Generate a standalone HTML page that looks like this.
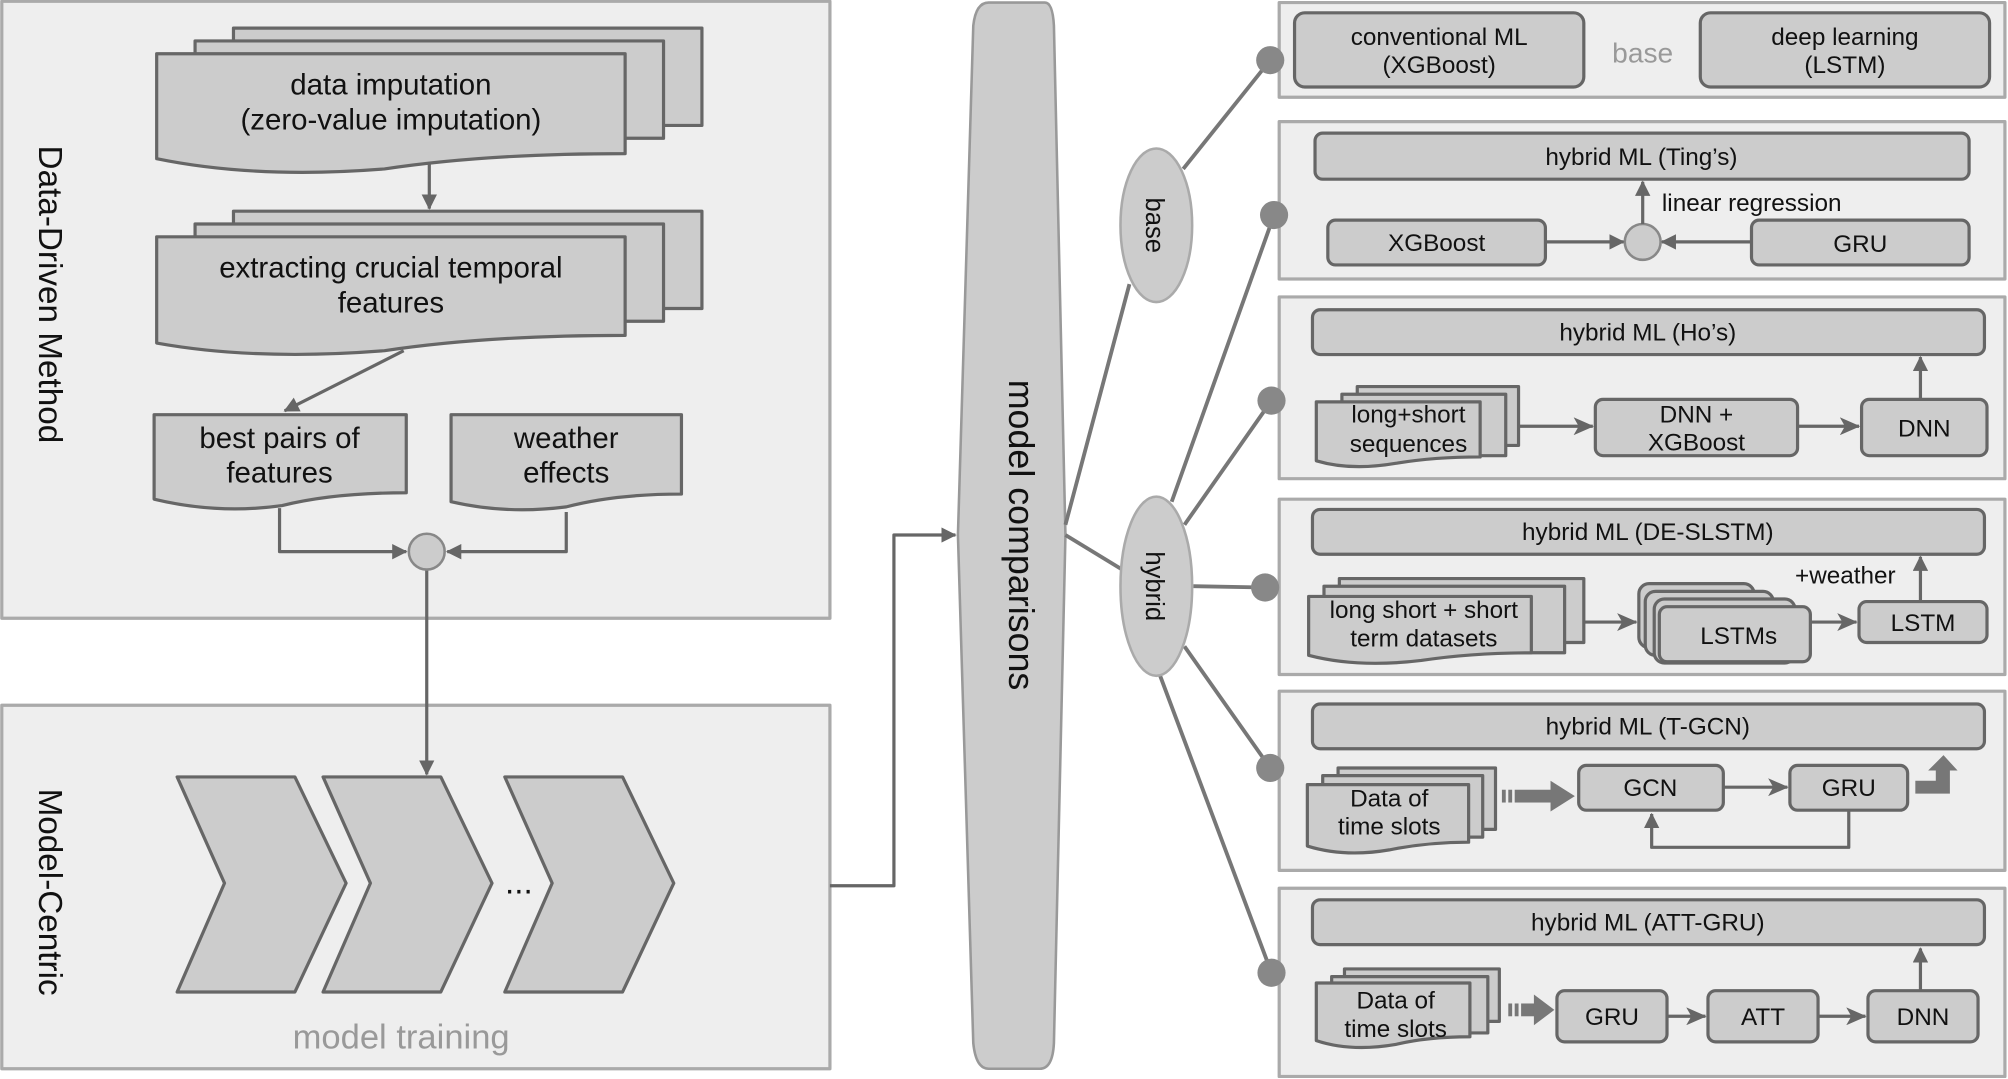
<!DOCTYPE html>
<html><head><meta charset="utf-8"><style>
html,body{margin:0;padding:0;background:#fff;}
svg{display:block;}
text{font-family:"Liberation Sans",Arial,sans-serif;fill:#111;}
</style></head><body>
<svg width="2008" height="1079" viewBox="0 0 1568 843" xmlns="http://www.w3.org/2000/svg">
<defs>
<marker id="ar" markerWidth="12" markerHeight="12" refX="11" refY="6" orient="auto" markerUnits="userSpaceOnUse"><path d="M0,0 L12,6 L0,12 Z" fill="#666"/></marker>
<marker id="ar2" markerWidth="16" markerHeight="14" refX="15" refY="7" orient="auto" markerUnits="userSpaceOnUse"><path d="M0,0 L16,7 L0,14 L4,7 Z" fill="#666"/></marker>
</defs>
<g stroke-linejoin="round">
<rect x="1" y="1" width="647" height="482" fill="#eeeeee" stroke="#aaa" stroke-width="2.5"/>
<rect x="1" y="551" width="647" height="284" fill="#eeeeee" stroke="#aaa" stroke-width="2.5"/>
<text transform="translate(30,230) rotate(90)" font-size="26" text-anchor="middle">Data-Driven Method</text>
<text transform="translate(30,697) rotate(90)" font-size="26" text-anchor="middle">Model-Centric</text>

<g fill="#cccccc" stroke="#666" stroke-width="2.5">
<rect x="182" y="22" width="366" height="76"/>
<rect x="152" y="32" width="366" height="76"/>
<path d="M122,42 H488 V120 Q380,120 300,132 Q200,140 122,124 Z"/>
<rect x="182" y="165" width="366" height="76"/>
<rect x="152" y="175" width="366" height="76"/>
<path d="M122,185 H488 V262 Q380,262 300,274 Q200,282 122,268 Z"/>
<path d="M120,324 H317 V385 Q260,385 220,395 Q170,402 120,390 Z"/>
<path d="M352,324 H532 V386 Q480,386 442,396 Q395,402 352,392 Z"/>
</g>
<g font-size="23" text-anchor="middle">
<text x="305" y="74">data imputation</text>
<text x="305" y="101">(zero-value imputation)</text>
<text x="305" y="217">extracting crucial temporal</text>
<text x="305" y="244">features</text>
<text x="218" y="350">best pairs of</text>
<text x="218" y="377">features</text>
<text x="442" y="350">weather</text>
<text x="442" y="377">effects</text>
</g>

<g fill="none" stroke="#666" stroke-width="2.5">
<line x1="335" y1="127" x2="335" y2="163" marker-end="url(#ar)"/>
<line x1="315" y1="274" x2="222" y2="321" marker-end="url(#ar)"/>
<polyline points="218,397 218,431 317,431" marker-end="url(#ar)"/>
<polyline points="442,400 442,431 349,431" marker-end="url(#ar)"/>
<line x1="333" y1="445" x2="333" y2="605" marker-end="url(#ar)"/>
<polyline points="648,692 698,692 698,418 746,418" marker-end="url(#ar)"/>
</g>
<circle cx="333" cy="431" r="14" fill="#ccc" stroke="#888" stroke-width="2"/>

<g fill="#cccccc" stroke="#666" stroke-width="2.5">
<polygon points="138,607 230,607 270,690 230,775 138,775 175,690"/>
<polygon points="252,607 344,607 384,690 344,775 252,775 289,690"/>
<polygon points="394,607 486,607 526,690 486,775 394,775 431,690"/>
</g>
<text x="405" y="698" font-size="26" text-anchor="middle">...</text>
<text x="313" y="819" font-size="27" text-anchor="middle" style="fill:#999">model training</text>

<path d="M772,2 H816 Q822,2 823,20 L832,418 L823,815 Q822,835 812,835 H772 Q762,835 760,815 L748,418 L760,20 Q762,2 772,2 Z" fill="#cccccc" stroke="#999" stroke-width="2"/>
<text transform="translate(788,418) rotate(90)" font-size="28" text-anchor="middle">model comparisons</text>

<g stroke="#777" stroke-width="3" fill="none">
<line x1="832" y1="410" x2="882" y2="222"/>
<line x1="832" y1="418" x2="878" y2="446"/>
<line x1="924" y1="132" x2="992" y2="47"/>
<line x1="915" y1="392" x2="995" y2="168"/>
<line x1="925" y1="410" x2="993" y2="313"/>
<line x1="932" y1="458" x2="988" y2="459"/>
<line x1="925" y1="505" x2="992" y2="600"/>
<line x1="906" y1="528" x2="993" y2="760"/>
</g>
<ellipse cx="903" cy="176" rx="28" ry="60" fill="#ccc" stroke="#aaa" stroke-width="2"/>
<ellipse cx="903" cy="458" rx="28" ry="70" fill="#ccc" stroke="#aaa" stroke-width="2"/>
<text transform="translate(895,176) rotate(90)" font-size="20" text-anchor="middle">base</text>
<text transform="translate(895,458) rotate(90)" font-size="20" text-anchor="middle">hybrid</text>

<g fill="#eeeeee" stroke="#aaa" stroke-width="2.5">
<rect x="999" y="2" width="567" height="74"/>
<rect x="999" y="95" width="567" height="123"/>
<rect x="999" y="232" width="567" height="142"/>
<rect x="999" y="390" width="567" height="137"/>
<rect x="999" y="540" width="567" height="140"/>
<rect x="999" y="694" width="567" height="147"/>
</g>
<g fill="#888">
<circle cx="992" cy="47" r="11"/><circle cx="995" cy="168" r="11"/><circle cx="993" cy="313" r="11"/>
<circle cx="988" cy="459" r="11"/><circle cx="992" cy="600" r="11"/><circle cx="993" cy="760" r="11"/>
</g>

<g fill="#cccccc" stroke="#666" stroke-width="2.5">
<rect x="1011" y="10" width="226" height="58" rx="8"/>
<rect x="1328" y="10" width="226" height="58" rx="8"/>
<rect x="1027" y="104" width="511" height="36" rx="6"/>
<rect x="1037" y="172" width="170" height="35" rx="6"/>
<rect x="1368" y="172" width="170" height="35" rx="6"/>
<rect x="1025" y="242" width="525" height="35" rx="6"/>
<rect x="1060" y="302" width="126" height="46"/>
<rect x="1048" y="308" width="128" height="48"/>
<path d="M1028,314 H1156 V357 Q1120,357 1090,362 Q1055,368 1028,360 Z"/>
<rect x="1246" y="312" width="158" height="44" rx="6"/>
<rect x="1454" y="312" width="98" height="44" rx="6"/>
<rect x="1025" y="398" width="525" height="35" rx="6"/>
<rect x="1046" y="452" width="191" height="50"/>
<rect x="1034" y="458" width="188" height="52"/>
<path d="M1022,466 H1196 V510 Q1150,510 1110,516 Q1060,522 1022,512 Z"/>
<rect x="1280" y="456" width="90" height="50" rx="8"/>
<rect x="1285" y="462" width="100" height="50" rx="8"/>
<rect x="1292" y="468" width="110" height="50" rx="8"/>
<rect x="1296" y="474" width="118" height="43" rx="6"/>
<rect x="1452" y="470" width="100" height="32" rx="6"/>
<rect x="1025" y="550" width="525" height="35" rx="6"/>
<rect x="1045" y="600" width="123" height="48"/>
<rect x="1033" y="606" width="125" height="48"/>
<path d="M1021,613 H1147 V658 Q1115,658 1085,664 Q1050,670 1021,661 Z"/>
<rect x="1233" y="598" width="113" height="35" rx="6"/>
<rect x="1398" y="598" width="92" height="35" rx="6"/>
<rect x="1025" y="703" width="525" height="35" rx="6"/>
<rect x="1050" y="757" width="121" height="41"/>
<rect x="1040" y="763" width="122" height="44"/>
<path d="M1028,768 H1148 V810 Q1115,810 1090,816 Q1055,822 1028,813 Z"/>
<rect x="1216" y="774" width="86" height="40" rx="6"/>
<rect x="1334" y="774" width="86" height="40" rx="6"/>
<rect x="1459" y="774" width="86" height="40" rx="6"/>
</g>
<circle cx="1283" cy="189" r="14" fill="#ccc" stroke="#888" stroke-width="2"/>

<g fill="none" stroke="#666" stroke-width="2.5">
<line x1="1207" y1="189" x2="1268" y2="189" marker-end="url(#ar)"/>
<line x1="1368" y1="189" x2="1298" y2="189" marker-end="url(#ar)"/>
<line x1="1283" y1="175" x2="1283" y2="142" marker-end="url(#ar)"/>
<line x1="1186" y1="333" x2="1244" y2="333" marker-end="url(#ar2)"/>
<line x1="1404" y1="333" x2="1452" y2="333" marker-end="url(#ar2)"/>
<line x1="1500" y1="312" x2="1500" y2="279" marker-end="url(#ar)"/>
<line x1="1237" y1="486" x2="1278" y2="486" marker-end="url(#ar2)"/>
<line x1="1414" y1="486" x2="1450" y2="486" marker-end="url(#ar2)"/>
<line x1="1500" y1="470" x2="1500" y2="435" marker-end="url(#ar)"/>
<line x1="1346" y1="615" x2="1396" y2="615" marker-end="url(#ar2)"/>
<polyline points="1444,633 1444,662 1290,662 1290,636" marker-end="url(#ar)"/>
<line x1="1302" y1="794" x2="1332" y2="794" marker-end="url(#ar2)"/>
<line x1="1420" y1="794" x2="1457" y2="794" marker-end="url(#ar2)"/>
<line x1="1500" y1="774" x2="1500" y2="741" marker-end="url(#ar)"/>
</g>
<g fill="#777" stroke="none">
<rect x="1173" y="617" width="3" height="10"/><rect x="1178" y="617" width="3" height="10"/>
<rect x="1183" y="617" width="30" height="10"/>
<polygon points="1211,610 1230,622 1211,634"/>
<rect x="1178" y="784" width="3" height="10"/><rect x="1183" y="784" width="3" height="10"/>
<rect x="1188" y="784" width="12" height="10"/>
<polygon points="1198,777 1214,789 1198,801"/>
<path d="M1496,610 H1512 V602 H1506 L1518,590 L1529,602 H1523 V620 H1496 Z"/>
</g>

<g font-size="19" text-anchor="middle">
<text x="1124" y="35">conventional ML</text>
<text x="1124" y="57">(XGBoost)</text>
<text x="1441" y="35">deep learning</text>
<text x="1441" y="57">(LSTM)</text>
<text x="1282" y="129">hybrid ML (Ting’s)</text>
<text x="1122" y="196">XGBoost</text>
<text x="1453" y="197">GRU</text>
<text x="1287" y="266">hybrid ML (Ho’s)</text>
<text x="1100" y="330">long+short</text>
<text x="1100" y="353">sequences</text>
<text x="1325" y="330">DNN +</text>
<text x="1325" y="352">XGBoost</text>
<text x="1503" y="341">DNN</text>
<text x="1287" y="422">hybrid ML (DE-SLSTM)</text>
<text x="1112" y="483">long short + short</text>
<text x="1112" y="505">term datasets</text>
<text x="1358" y="503">LSTMs</text>
<text x="1502" y="493">LSTM</text>
<text x="1287" y="574">hybrid ML (T-GCN)</text>
<text x="1085" y="630">Data of</text>
<text x="1085" y="652">time slots</text>
<text x="1289" y="622">GCN</text>
<text x="1444" y="622">GRU</text>
<text x="1287" y="727">hybrid ML (ATT-GRU)</text>
<text x="1090" y="788">Data of</text>
<text x="1090" y="810">time slots</text>
<text x="1259" y="801">GRU</text>
<text x="1377" y="801">ATT</text>
<text x="1502" y="801">DNN</text>
</g>
<text x="1298" y="165" font-size="19">linear regression</text>
<text x="1402" y="456" font-size="19">+weather</text>
<text x="1283" y="49" font-size="22" text-anchor="middle" style="fill:#999">base</text>
</g>
</svg>
</body></html>
